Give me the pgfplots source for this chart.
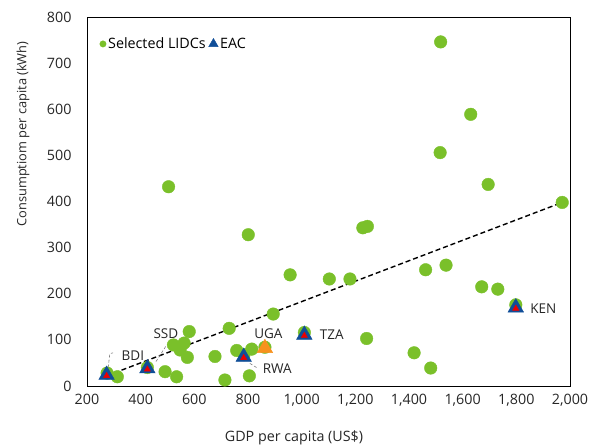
\documentclass[border=0pt]{standalone}
\usepackage{fontspec}
\setmainfont{Open Sans}
\usepackage{pgfplots}
\pgfplotsset{compat=1.18}
\definecolor{lgreen}{RGB}{122,192,42}
\definecolor{eacblue}{RGB}{16,78,152}
\definecolor{eacred}{RGB}{235,0,0}
\definecolor{ugaorange}{RGB}{247,146,30}
\begin{document}
\begin{tikzpicture}[x=1pt,y=1pt]
\useasboundingbox (0,0) rectangle (589,447);
\begin{axis}[
  at={(87pt,61pt)}, anchor=south west,
  scale only axis, width=483pt, height=369pt,
  xmin=200, xmax=2000, ymin=0, ymax=800,
  xtick={200,400,...,2000}, ytick={0,100,...,800},
  major tick length=0pt,
  axis line style={black, line width=0.8pt},
  /pgf/number format/1000 sep={,},
  /pgf/number format/assume math mode=true,
  tick label style={font=\fontsize{14.3}{16}\selectfont, text=black!85},
  xticklabel style={yshift=-5pt},
  yticklabel style={xshift=-12pt},
  xlabel={GDP per capita (US\$)},
  xlabel style={at={(axis description cs:0.4286,-0.141)}, anchor=center, font=\fontsize{14.3}{16}\selectfont, text=black!85},
  ylabel={Consumptiom per capita (kWh)},
  ylabel style={at={(axis description cs:-0.1325,0.683)}, anchor=center, font=\fontsize{12.8}{15}\selectfont, text=black!85},
  legend style={at={(axis description cs:0.026,0.927)}, anchor=west, draw=none, fill=none,
    font=\fontsize{14.3}{16}\selectfont, legend columns=2, inner sep=0pt,
    /tikz/every even column/.append style={column sep=1pt}},
  legend cell align=left,
  clip=false,
]
\addlegendimage{only marks, mark=*, mark size=3.2pt, lgreen, mark options={draw=lgreen, fill=lgreen}}
\addlegendentry{Selected LIDCs}
\addlegendimage{only marks, mark=triangle*, mark size=5.5pt, mark options={draw=eacblue, fill=eacblue}}
\addlegendentry{EAC}

\addplot[only marks, mark=*, mark size=6.3pt, mark options={draw=lgreen, fill=lgreen}, forget plot] coordinates {
(1518,746) (1630,589) (1516,506) (1695,437) (1971,398) (504,432) (801,328)
(957,241) (1103,232) (1180,232) (1228,343) (1245,346) (1462,252) (1538,262)
(1671,215) (1731,210) (1798,176) (1419,72) (1481,39) (1242,103) (894,156)
(1010,116) (785,68) (758,77) (814,80) (805,22) (714,13) (677,64) (730,125)
(581,118) (522,89) (562,93) (547,78) (574,62) (534,20) (491,31) (313,20)
(275,28) (425,40) (863,84)
};
\addplot[only marks, mark=triangle*, mark size=9pt, mark options={draw=eacblue, fill=eacblue}, forget plot] coordinates {
(273,24) (425,38) (784,63) (1010,111) (1798,170)
};
\addplot[only marks, mark=triangle*, mark size=3.6pt, mark options={draw=eacred, fill=eacred}, forget plot] coordinates {
(273,22) (425,36) (784,61) (1010,109) (1798,168)
};
\addplot[only marks, mark=triangle*, mark size=9pt, mark options={draw=ugaorange, fill=ugaorange}, forget plot] coordinates {
(863,82)
};
\addplot[black, line width=1.4pt, dash pattern=on 5pt off 3pt, forget plot] coordinates {
(273,22) (1971,398)
};
% leader lines
\draw[gray, densely dashed, line width=0.6pt] (axis cs:279,40) -- (axis cs:285,70) -- (axis cs:297,72);
\draw[gray, densely dashed, line width=0.6pt] (axis cs:457,53) -- (axis cs:497,89);
\draw[gray, densely dashed, line width=0.6pt] (axis cs:807,49) -- (axis cs:832,40);
% labels
\begin{scope}[every node/.style={font=\fontsize{13.5}{15}\selectfont, text=black!85, inner sep=0pt}]
\node at (axis cs:371,65) {BDI};
\node at (axis cs:494,113) {SSD};
\node at (axis cs:876,114) {UGA};
\node at (axis cs:909,38) {RWA};
\node at (axis cs:1112,112) {TZA};
\node at (axis cs:1901,168) {KEN};
\end{scope}
\end{axis}
\end{tikzpicture}
\end{document}
